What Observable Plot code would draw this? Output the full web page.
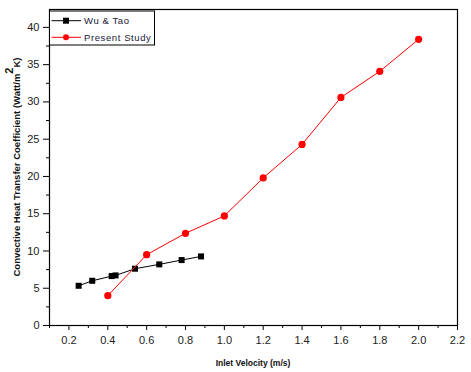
<!DOCTYPE html>
<html><head><meta charset="utf-8">
<script src="https://cdn.jsdelivr.net/npm/d3@7"></script>
<script src="https://cdn.jsdelivr.net/npm/@observablehq/plot@0.6"></script>
<style>body{margin:0;background:#fff}</style>
</head><body><div id="chart"></div>
<script>
const wuTaoVelocity = [0.25, 0.32, 0.42, 0.44, 0.54, 0.665, 0.78, 0.88];
const wuTaoH = [5.33, 6.0, 6.63, 6.72, 7.62, 8.2, 8.78, 9.27];
const presentVelocity = [0.4, 0.6, 0.8, 1.0, 1.2, 1.4, 1.6, 1.8, 2.0];
const presentH = [4.0, 9.5, 12.37, 14.7, 19.8, 24.3, 30.6, 34.1, 38.4];
const seriesNames = ["Wu & Tao", "Present Study"];
const seriesColors = ["#000000", "#ff0000"];
const xTicks = [0.2, 0.4, 0.6, 0.8, 1.0, 1.2, 1.4, 1.6, 1.8, 2.0, 2.2];
const xMinor = [0.1, 0.3, 0.5, 0.7, 0.9, 1.1, 1.3, 1.5, 1.7, 1.9, 2.1];
const yTicks = [0, 5, 10, 15, 20, 25, 30, 35, 40];
const yMinor = [2.5, 7.5, 12.5, 17.5, 22.5, 27.5, 32.5, 37.5];
const xLabel = "Inlet Velocity (m/s)";
const yLabelMain = "Convective Heat Transfer Coefficient (Watt/m";
const yLabelSup = "2";
const yLabelEnd = "K)";

const wu = wuTaoVelocity.map((v, i) => ({v, h: wuTaoH[i]}));
const ps = presentVelocity.map((v, i) => ({v, h: presentH[i]}));

const W = 471, H = 372;
const plot = Plot.plot({
  width: W, height: H,
  marginLeft: 49, marginRight: 14, marginTop: 9, marginBottom: 47,
  style: {fontFamily: "Liberation Sans, Arial, sans-serif", fontSize: "11px", color: "#222", background: "#fff"},
  x: {domain: [0.1, 2.2]},
  y: {domain: [0, 42.4]},
  marks: [
    Plot.frame({stroke: "#000", strokeWidth: 1.2}),
    Plot.axisX({ticks: xTicks, tickSize: 5, tickPadding: 6, tickFormat: d3.format(".1f"), label: null, stroke: "#000", strokeWidth: 1, fill: "#222"}),
    Plot.axisX({ticks: xMinor, tickSize: 3, tickFormat: () => "", label: null, stroke: "#000"}),
    Plot.axisY({ticks: yTicks, tickSize: 6, tickPadding: 4, tickFormat: d3.format("d"), label: null, stroke: "#000", fill: "#222"}),
    Plot.axisY({ticks: yMinor, tickSize: 3, tickFormat: () => "", label: null, stroke: "#000"}),
    Plot.line(wu, {x: "v", y: "h", stroke: seriesColors[0], strokeWidth: 1}),
    Plot.dot(wu, {x: "v", y: "h", symbol: "square", r: 3.4, fill: seriesColors[0], stroke: "none"}),
    Plot.line(ps, {x: "v", y: "h", stroke: seriesColors[1], strokeWidth: 1}),
    Plot.dot(ps, {x: "v", y: "h", r: 3.6, fill: seriesColors[1], stroke: "none"})
  ]
});
document.getElementById("chart").appendChild(plot);

const svg = d3.select(plot);
const font = "Liberation Sans, Arial, sans-serif";
// axis titles
svg.append("text")
  .attr("x", 253).attr("y", 366)
  .attr("text-anchor", "middle")
  .attr("font-family", font).attr("font-weight", "bold").attr("font-size", 8.5)
  .attr("fill", "#111")
  .text(xLabel);
const yl = svg.append("text")
  .attr("transform", "translate(20,167) rotate(-90)")
  .attr("text-anchor", "middle")
  .attr("font-family", font).attr("font-weight", "bold").attr("font-size", 9.5)
  .attr("fill", "#111");
yl.append("tspan").text(yLabelMain);
yl.append("tspan").attr("dy", -7).attr("font-size", 11).text(yLabelSup);
yl.append("tspan").attr("dy", 7).text(yLabelEnd);

// legend
const lg = svg.append("g").attr("text-anchor", "start");
lg.append("rect").attr("x", 49.5).attr("y", 11).attr("width", 105).attr("height", 34)
  .attr("fill", "#fff").attr("stroke", "#000").attr("stroke-width", 1);
seriesNames.forEach((name, i) => {
  const y = 20.7 + i * 16.6;
  lg.append("line").attr("x1", 51.5).attr("x2", 81).attr("y1", y).attr("y2", y)
    .attr("stroke", seriesColors[i]).attr("stroke-width", 1);
  if (i === 0) lg.append("rect").attr("x", 63).attr("y", y - 3).attr("width", 6).attr("height", 6).attr("fill", seriesColors[i]);
  else lg.append("circle").attr("cx", 66).attr("cy", y).attr("r", 3).attr("fill", seriesColors[i]);
  lg.append("text").attr("x", 84).attr("y", y).attr("dy", "0.35em").attr("text-anchor", "start")
    .attr("font-family", font).attr("font-size", 9.5).attr("letter-spacing", 0.6)
    .attr("fill", "#1a1a3a").text(name);
});
</script></body></html>
